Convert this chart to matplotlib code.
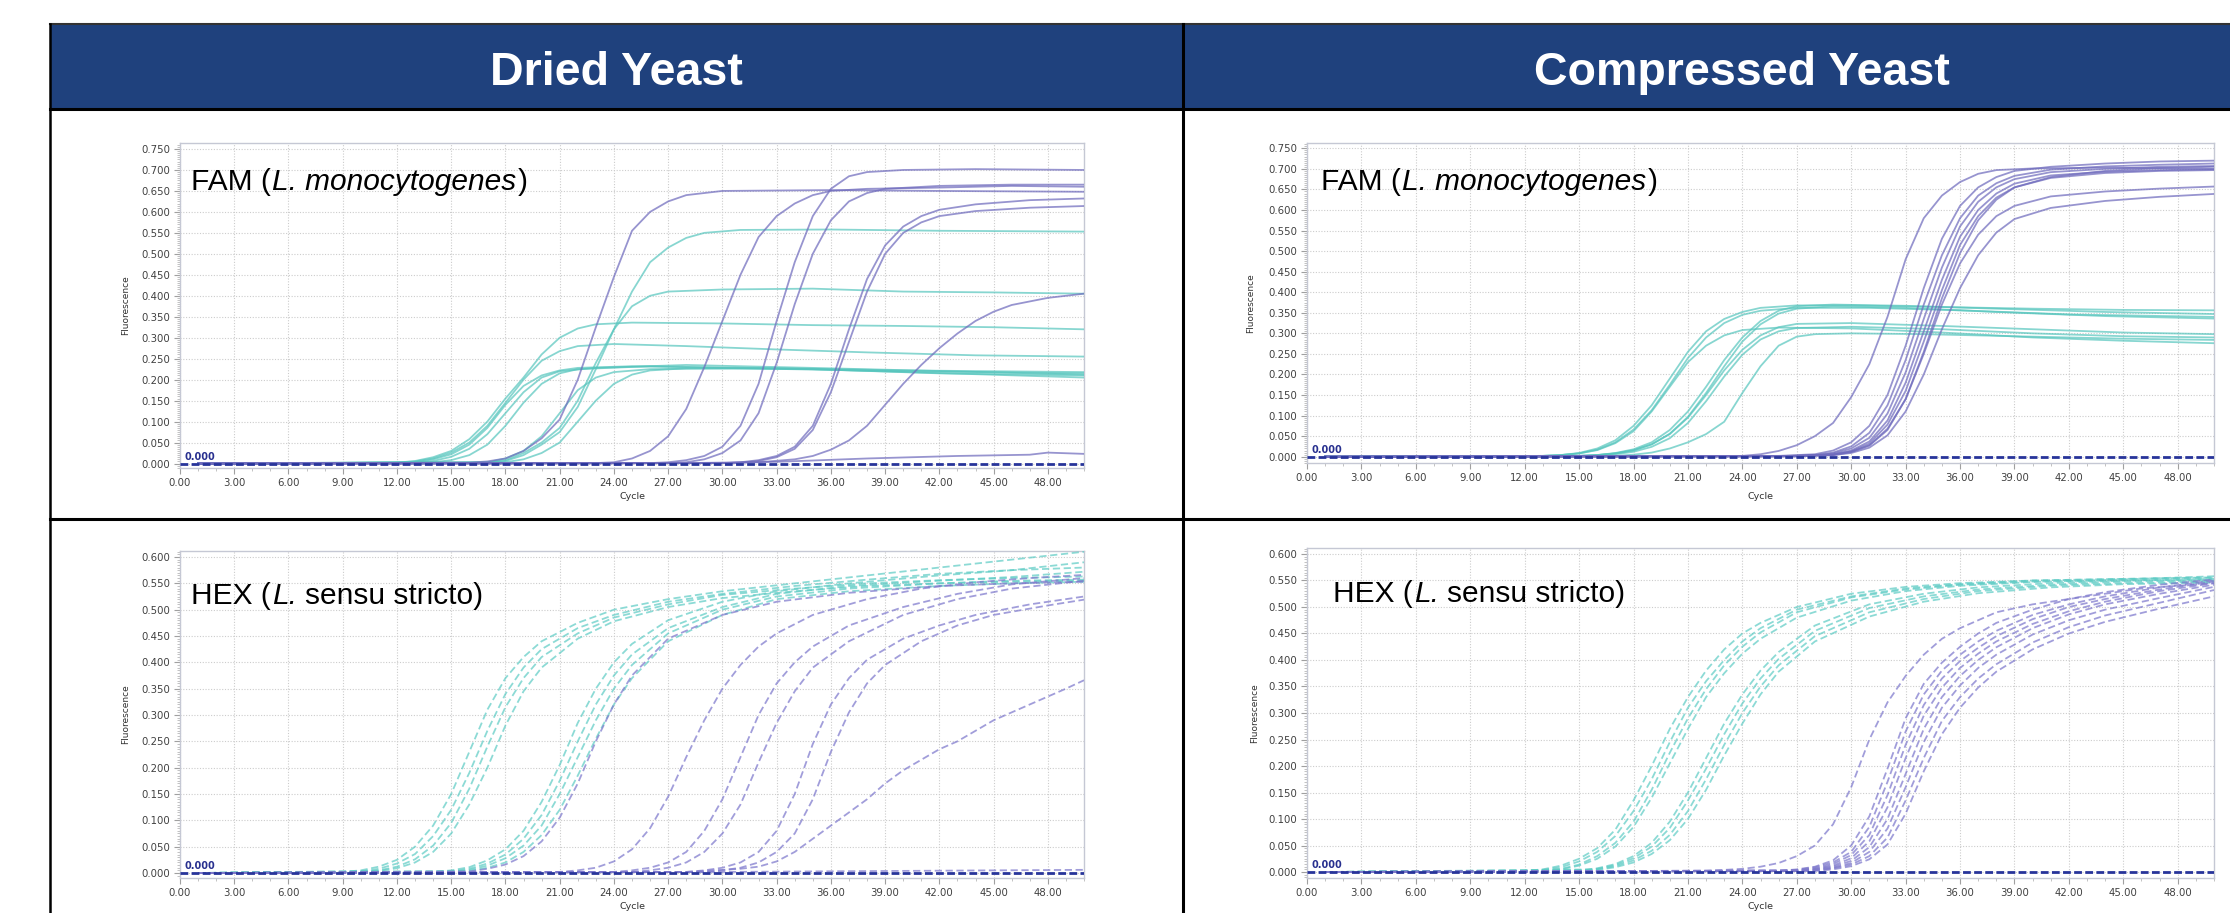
import numpy as np
import matplotlib
matplotlib.use("Agg")
import matplotlib.pyplot as plt
from matplotlib.ticker import MultipleLocator, FormatStrFormatter
from matplotlib.patches import Rectangle

# column headers and panel captions (text, style, space before)
column_titles = ["Dried Yeast", "Compressed Yeast"]
fam_caption = [("FAM (", "normal", False), ("L. monocytogenes", "italic", False), (")", "normal", False)]
hex_caption = [("HEX (", "normal", False), ("L.", "italic", False), ("sensu stricto)", "normal", True)]
cycle_ticks = [0, 3, 6, 9, 12, 15, 18, 21, 24, 27, 30, 33, 36, 39, 42, 45, 48]

# amplification curves, (cycle, fluorescence)
dried_fam_teal = [
    [(1, 0), (12, 0.002), (13, 0.006), (14, 0.015), (15, 0.03), (16, 0.058), (17, 0.1), (18, 0.155), (19, 0.205), (20, 0.26), (21, 0.3), (22, 0.322), (23, 0.332), (25, 0.336), (30, 0.334), (35, 0.33), (40, 0.328), (45, 0.325), (50, 0.32)],
    [(1, 0), (12, 0.002), (13, 0.005), (14, 0.012), (15, 0.026), (16, 0.05), (17, 0.09), (18, 0.145), (19, 0.2), (20, 0.245), (21, 0.268), (22, 0.28), (24, 0.285), (28, 0.28), (33, 0.272), (38, 0.265), (44, 0.258), (50, 0.255)],
    [(1, 0), (13, 0.003), (14, 0.01), (15, 0.022), (16, 0.045), (17, 0.085), (18, 0.14), (19, 0.185), (20, 0.21), (21, 0.222), (22, 0.228), (25, 0.232), (30, 0.228), (40, 0.22), (50, 0.215)],
    [(1, 0), (13, 0.002), (14, 0.006), (15, 0.016), (16, 0.035), (17, 0.07), (18, 0.12), (19, 0.17), (20, 0.205), (21, 0.22), (23, 0.228), (28, 0.235), (35, 0.228), (50, 0.212)],
    [(1, 0), (14, 0.003), (15, 0.008), (16, 0.02), (17, 0.045), (18, 0.09), (19, 0.145), (20, 0.19), (21, 0.215), (22, 0.225), (26, 0.232), (35, 0.225), (50, 0.205)],
    [(1, 0), (17, 0.002), (18, 0.006), (19, 0.02), (20, 0.045), (21, 0.075), (22, 0.135), (23, 0.225), (24, 0.32), (25, 0.41), (26, 0.48), (27, 0.515), (28, 0.538), (29, 0.55), (31, 0.557), (36, 0.558), (42, 0.555), (50, 0.553)],
    [(1, 0), (17, 0.002), (18, 0.008), (19, 0.025), (20, 0.05), (21, 0.085), (22, 0.15), (23, 0.24), (24, 0.32), (25, 0.375), (26, 0.4), (27, 0.41), (30, 0.415), (35, 0.417), (40, 0.41), (45, 0.408), (50, 0.405)],
    [(1, 0), (18, 0.003), (19, 0.01), (20, 0.025), (21, 0.05), (22, 0.1), (23, 0.15), (24, 0.19), (25, 0.212), (26, 0.222), (28, 0.227), (35, 0.225), (42, 0.215), (50, 0.21)],
    [(1, 0), (17, 0.003), (18, 0.012), (19, 0.03), (20, 0.065), (21, 0.12), (22, 0.175), (23, 0.205), (24, 0.218), (26, 0.225), (32, 0.228), (40, 0.222), (50, 0.218)],
]
dried_fam_purple = [
    [(1, 0), (16, 0.002), (17, 0.005), (18, 0.012), (19, 0.03), (20, 0.06), (21, 0.105), (22, 0.2), (23, 0.325), (24, 0.445), (25, 0.555), (26, 0.6), (27, 0.625), (28, 0.64), (30, 0.65), (36, 0.652), (42, 0.65), (50, 0.648)],
    [(1, 0), (23, 0.001), (24, 0.003), (25, 0.012), (26, 0.03), (27, 0.065), (28, 0.13), (29, 0.23), (30, 0.34), (31, 0.45), (32, 0.54), (33, 0.59), (34, 0.62), (35, 0.64), (36, 0.65), (38, 0.655), (42, 0.658), (46, 0.662), (50, 0.66)],
    [(1, 0), (26, 0.001), (27, 0.003), (28, 0.008), (29, 0.018), (30, 0.04), (31, 0.09), (32, 0.19), (33, 0.34), (34, 0.48), (35, 0.59), (36, 0.655), (37, 0.685), (38, 0.695), (40, 0.7), (44, 0.702), (50, 0.7)],
    [(1, 0), (27, 0.001), (28, 0.003), (29, 0.01), (30, 0.025), (31, 0.055), (32, 0.12), (33, 0.24), (34, 0.38), (35, 0.5), (36, 0.58), (37, 0.625), (38, 0.645), (39, 0.655), (42, 0.662), (46, 0.665), (50, 0.665)],
    [(1, 0), (30, 0.001), (31, 0.003), (32, 0.008), (33, 0.018), (34, 0.04), (35, 0.09), (36, 0.19), (37, 0.32), (38, 0.44), (39, 0.52), (40, 0.565), (41, 0.59), (42, 0.605), (44, 0.618), (47, 0.628), (50, 0.632)],
    [(1, 0), (30, 0.001), (31, 0.002), (32, 0.006), (33, 0.015), (34, 0.035), (35, 0.08), (36, 0.17), (37, 0.29), (38, 0.41), (39, 0.5), (40, 0.55), (41, 0.575), (42, 0.59), (44, 0.602), (47, 0.61), (50, 0.614)],
    [(1, 0), (30, 0.001), (32, 0.003), (34, 0.01), (35, 0.018), (36, 0.033), (37, 0.055), (38, 0.09), (39, 0.14), (40, 0.19), (41, 0.235), (42, 0.275), (43, 0.31), (44, 0.34), (45, 0.362), (46, 0.378), (48, 0.395), (50, 0.405)],
    [(1, 0), (28, 0.001), (33, 0.004), (38, 0.012), (43, 0.018), (47, 0.021), (48, 0.026), (50, 0.023)],
]

compressed_fam_teal = [
    [(1, 0), (13, 0.002), (14, 0.004), (15, 0.009), (16, 0.02), (17, 0.04), (18, 0.075), (19, 0.125), (20, 0.19), (21, 0.255), (22, 0.305), (23, 0.335), (24, 0.352), (25, 0.362), (27, 0.368), (30, 0.368), (35, 0.364), (40, 0.36), (45, 0.357), (50, 0.356)],
    [(1, 0), (13, 0.002), (14, 0.004), (15, 0.008), (16, 0.017), (17, 0.035), (18, 0.066), (19, 0.113), (20, 0.175), (21, 0.24), (22, 0.29), (23, 0.325), (24, 0.345), (25, 0.355), (27, 0.362), (31, 0.362), (36, 0.356), (42, 0.346), (50, 0.34)],
    [(1, 0), (13, 0.002), (14, 0.004), (15, 0.008), (16, 0.016), (17, 0.033), (18, 0.062), (19, 0.11), (20, 0.17), (21, 0.23), (22, 0.27), (23, 0.295), (24, 0.308), (26, 0.314), (30, 0.312), (35, 0.302), (40, 0.29), (45, 0.282), (50, 0.276)],
    [(1, 0), (15, 0.002), (16, 0.004), (17, 0.009), (18, 0.018), (19, 0.035), (20, 0.065), (21, 0.11), (22, 0.17), (23, 0.235), (24, 0.29), (25, 0.33), (26, 0.355), (27, 0.366), (29, 0.37), (33, 0.367), (38, 0.36), (44, 0.352), (50, 0.347)],
    [(1, 0), (15, 0.002), (16, 0.004), (17, 0.008), (18, 0.016), (19, 0.03), (20, 0.056), (21, 0.097), (22, 0.155), (23, 0.22), (24, 0.28), (25, 0.322), (26, 0.348), (27, 0.36), (29, 0.366), (33, 0.362), (38, 0.352), (44, 0.342), (50, 0.336)],
    [(1, 0), (15, 0.002), (16, 0.004), (17, 0.008), (18, 0.015), (19, 0.03), (20, 0.055), (21, 0.095), (22, 0.15), (23, 0.21), (24, 0.26), (25, 0.295), (26, 0.315), (27, 0.323), (30, 0.325), (35, 0.318), (40, 0.31), (45, 0.302), (50, 0.298)],
    [(1, 0), (15, 0.001), (16, 0.003), (17, 0.006), (18, 0.012), (19, 0.024), (20, 0.045), (21, 0.082), (22, 0.135), (23, 0.195), (24, 0.248), (25, 0.285), (26, 0.305), (27, 0.313), (30, 0.316), (35, 0.31), (40, 0.3), (45, 0.293), (50, 0.29)],
    [(1, 0), (17, 0.002), (18, 0.005), (19, 0.01), (20, 0.02), (21, 0.035), (22, 0.055), (23, 0.085), (24, 0.155), (25, 0.22), (26, 0.27), (27, 0.292), (28, 0.298), (30, 0.3), (34, 0.298), (40, 0.292), (45, 0.287), (50, 0.284)],
]
compressed_fam_purple = [
    [(1, 0), (24, 0.002), (25, 0.006), (26, 0.014), (27, 0.028), (28, 0.05), (29, 0.082), (30, 0.145), (31, 0.225), (32, 0.34), (33, 0.48), (34, 0.58), (35, 0.635), (36, 0.668), (37, 0.688), (38, 0.697), (40, 0.701), (44, 0.703), (50, 0.7)],
    [(1, 0), (26, 0.002), (28, 0.006), (29, 0.015), (30, 0.035), (31, 0.075), (32, 0.15), (33, 0.27), (34, 0.41), (35, 0.53), (36, 0.61), (37, 0.655), (38, 0.68), (39, 0.695), (41, 0.705), (44, 0.713), (47, 0.718), (50, 0.72)],
    [(1, 0), (26, 0.001), (28, 0.004), (29, 0.01), (30, 0.025), (31, 0.058), (32, 0.125), (33, 0.235), (34, 0.37), (35, 0.49), (36, 0.58), (37, 0.635), (38, 0.665), (39, 0.683), (41, 0.698), (44, 0.706), (47, 0.71), (50, 0.713)],
    [(1, 0), (27, 0.001), (28, 0.003), (29, 0.008), (30, 0.02), (31, 0.046), (32, 0.105), (33, 0.205), (34, 0.335), (35, 0.46), (36, 0.56), (37, 0.62), (38, 0.655), (39, 0.675), (41, 0.692), (44, 0.7), (47, 0.705), (50, 0.707)],
    [(1, 0), (27, 0.002), (29, 0.006), (30, 0.015), (31, 0.037), (32, 0.088), (33, 0.18), (34, 0.305), (35, 0.43), (36, 0.535), (37, 0.6), (38, 0.64), (39, 0.664), (41, 0.684), (44, 0.693), (47, 0.697), (50, 0.699)],
    [(1, 0), (27, 0.002), (29, 0.005), (30, 0.013), (31, 0.032), (32, 0.078), (33, 0.16), (34, 0.28), (35, 0.405), (36, 0.515), (37, 0.585), (38, 0.63), (39, 0.655), (41, 0.678), (44, 0.69), (47, 0.695), (50, 0.697)],
    [(1, 0), (27, 0.002), (29, 0.005), (30, 0.012), (31, 0.028), (32, 0.068), (33, 0.14), (34, 0.25), (35, 0.37), (36, 0.47), (37, 0.54), (38, 0.585), (39, 0.61), (41, 0.633), (44, 0.645), (47, 0.652), (50, 0.657)],
    [(1, 0), (27, 0.001), (29, 0.004), (30, 0.009), (31, 0.022), (32, 0.052), (33, 0.11), (34, 0.2), (35, 0.31), (36, 0.41), (37, 0.49), (38, 0.545), (39, 0.578), (41, 0.605), (44, 0.622), (47, 0.632), (50, 0.639)],
    [(1, 0), (27, 0.001), (29, 0.004), (30, 0.011), (31, 0.027), (32, 0.065), (33, 0.14), (34, 0.255), (35, 0.385), (36, 0.495), (37, 0.575), (38, 0.625), (39, 0.655), (41, 0.68), (44, 0.695), (47, 0.702), (50, 0.705)],
]

dried_hex_teal = [
    [(1, 0), (9, 0.002), (10, 0.005), (11, 0.012), (12, 0.025), (13, 0.05), (14, 0.09), (15, 0.15), (16, 0.23), (17, 0.31), (18, 0.37), (19, 0.41), (20, 0.44), (22, 0.475), (24, 0.5), (27, 0.52), (30, 0.535), (34, 0.55), (38, 0.565), (42, 0.58), (46, 0.595), (50, 0.61)],
    [(1, 0), (10, 0.003), (11, 0.008), (12, 0.018), (13, 0.036), (14, 0.07), (15, 0.12), (16, 0.19), (17, 0.27), (18, 0.34), (19, 0.39), (20, 0.425), (22, 0.465), (24, 0.49), (27, 0.515), (30, 0.53), (34, 0.545), (38, 0.557), (42, 0.568), (46, 0.575), (50, 0.58)],
    [(1, 0), (10, 0.002), (11, 0.005), (12, 0.012), (13, 0.026), (14, 0.052), (15, 0.095), (16, 0.16), (17, 0.24), (18, 0.315), (19, 0.37), (20, 0.41), (22, 0.455), (24, 0.485), (27, 0.51), (30, 0.528), (34, 0.54), (38, 0.55), (42, 0.556), (46, 0.56), (50, 0.563)],
    [(1, 0), (11, 0.004), (12, 0.009), (13, 0.02), (14, 0.04), (15, 0.075), (16, 0.13), (17, 0.2), (18, 0.28), (19, 0.345), (20, 0.39), (22, 0.445), (24, 0.478), (27, 0.505), (30, 0.522), (34, 0.535), (38, 0.545), (42, 0.55), (46, 0.553), (50, 0.555)],
    [(1, 0), (14, 0.002), (15, 0.005), (16, 0.011), (17, 0.024), (18, 0.045), (19, 0.08), (20, 0.135), (21, 0.205), (22, 0.285), (23, 0.35), (24, 0.4), (25, 0.435), (27, 0.48), (30, 0.515), (33, 0.535), (37, 0.55), (42, 0.565), (46, 0.575), (50, 0.59)],
    [(1, 0), (15, 0.003), (16, 0.008), (17, 0.018), (18, 0.035), (19, 0.065), (20, 0.11), (21, 0.175), (22, 0.25), (23, 0.32), (24, 0.375), (25, 0.415), (27, 0.465), (30, 0.505), (33, 0.53), (37, 0.545), (42, 0.555), (46, 0.562), (50, 0.572)],
    [(1, 0), (15, 0.002), (16, 0.006), (17, 0.014), (18, 0.028), (19, 0.052), (20, 0.09), (21, 0.15), (22, 0.22), (23, 0.29), (24, 0.35), (25, 0.395), (27, 0.455), (30, 0.5), (33, 0.525), (37, 0.54), (42, 0.55), (46, 0.555), (50, 0.557)],
    [(1, 0), (16, 0.004), (17, 0.01), (18, 0.02), (19, 0.04), (20, 0.072), (21, 0.12), (22, 0.185), (23, 0.255), (24, 0.32), (25, 0.37), (27, 0.44), (30, 0.49), (33, 0.52), (37, 0.535), (42, 0.545), (46, 0.55), (50, 0.553)],
]
dried_hex_purple = [
    [(1, 0), (16, 0.003), (17, 0.008), (18, 0.016), (19, 0.032), (20, 0.06), (21, 0.105), (22, 0.17), (23, 0.25), (24, 0.32), (25, 0.375), (27, 0.445), (30, 0.49), (33, 0.515), (37, 0.532), (42, 0.545), (46, 0.55), (50, 0.553)],
    [(1, 0), (21, 0.002), (22, 0.005), (23, 0.01), (24, 0.022), (25, 0.045), (26, 0.085), (27, 0.145), (28, 0.22), (29, 0.29), (30, 0.35), (31, 0.395), (32, 0.43), (33, 0.455), (35, 0.49), (38, 0.52), (41, 0.54), (44, 0.552), (47, 0.56), (50, 0.566)],
    [(1, 0), (24, 0.002), (25, 0.005), (26, 0.01), (27, 0.02), (28, 0.04), (29, 0.08), (30, 0.14), (31, 0.22), (32, 0.3), (33, 0.36), (34, 0.4), (35, 0.43), (37, 0.47), (40, 0.505), (43, 0.53), (46, 0.548), (50, 0.56)],
    [(1, 0), (25, 0.002), (26, 0.005), (27, 0.01), (28, 0.02), (29, 0.04), (30, 0.075), (31, 0.13), (32, 0.21), (33, 0.285), (34, 0.345), (35, 0.39), (37, 0.44), (40, 0.49), (43, 0.52), (46, 0.54), (50, 0.555)],
    [(1, 0), (28, 0.002), (29, 0.005), (30, 0.01), (31, 0.02), (32, 0.04), (33, 0.08), (34, 0.15), (35, 0.245), (36, 0.32), (37, 0.37), (38, 0.405), (40, 0.445), (42, 0.47), (44, 0.49), (47, 0.51), (50, 0.525)],
    [(1, 0), (29, 0.002), (30, 0.005), (31, 0.01), (32, 0.02), (33, 0.04), (34, 0.075), (35, 0.14), (36, 0.23), (37, 0.305), (38, 0.36), (39, 0.395), (41, 0.44), (43, 0.47), (45, 0.49), (48, 0.508), (50, 0.519)],
    [(1, 0), (28, 0.002), (30, 0.006), (31, 0.008), (32, 0.012), (33, 0.022), (34, 0.04), (35, 0.065), (36, 0.09), (37, 0.115), (38, 0.14), (39, 0.17), (40, 0.195), (41, 0.215), (42, 0.235), (43, 0.25), (44, 0.27), (45, 0.29), (46, 0.305), (47, 0.32), (48, 0.335), (49, 0.35), (50, 0.366)],
    [(1, 0), (30, 0.002), (40, 0.004), (50, 0.006)],
]

compressed_hex_teal = [
    [(1, 0), (12, 0.002), (13, 0.005), (14, 0.012), (15, 0.025), (16, 0.045), (17, 0.08), (18, 0.135), (19, 0.2), (20, 0.27), (21, 0.33), (22, 0.38), (23, 0.42), (24, 0.45), (25, 0.47), (27, 0.5), (30, 0.525), (33, 0.538), (36, 0.545), (40, 0.55), (45, 0.553), (50, 0.556)],
    [(1, 0), (12, 0.002), (13, 0.004), (14, 0.009), (15, 0.02), (16, 0.038), (17, 0.068), (18, 0.115), (19, 0.175), (20, 0.245), (21, 0.31), (22, 0.36), (23, 0.4), (24, 0.435), (25, 0.46), (27, 0.495), (30, 0.52), (33, 0.535), (36, 0.543), (40, 0.55), (45, 0.553), (50, 0.555)],
    [(1, 0), (13, 0.003), (14, 0.006), (15, 0.014), (16, 0.03), (17, 0.055), (18, 0.095), (19, 0.155), (20, 0.225), (21, 0.29), (22, 0.345), (23, 0.39), (24, 0.425), (25, 0.452), (27, 0.49), (30, 0.518), (33, 0.533), (36, 0.542), (40, 0.548), (45, 0.55), (50, 0.552)],
    [(1, 0), (13, 0.002), (14, 0.005), (15, 0.012), (16, 0.025), (17, 0.048), (18, 0.085), (19, 0.14), (20, 0.205), (21, 0.27), (22, 0.33), (23, 0.375), (24, 0.412), (25, 0.44), (27, 0.48), (30, 0.512), (33, 0.53), (36, 0.54), (40, 0.547), (45, 0.552), (50, 0.558)],
    [(1, 0), (15, 0.003), (16, 0.007), (17, 0.015), (18, 0.03), (19, 0.055), (20, 0.095), (21, 0.15), (22, 0.215), (23, 0.28), (24, 0.335), (25, 0.38), (26, 0.415), (28, 0.465), (31, 0.505), (34, 0.525), (37, 0.537), (41, 0.545), (45, 0.55), (50, 0.553)],
    [(1, 0), (15, 0.002), (16, 0.006), (17, 0.013), (18, 0.026), (19, 0.048), (20, 0.083), (21, 0.135), (22, 0.195), (23, 0.26), (24, 0.318), (25, 0.365), (26, 0.402), (28, 0.455), (31, 0.498), (34, 0.52), (37, 0.533), (41, 0.542), (45, 0.548), (50, 0.55)],
    [(1, 0), (16, 0.005), (17, 0.011), (18, 0.022), (19, 0.04), (20, 0.07), (21, 0.115), (22, 0.175), (23, 0.24), (24, 0.3), (25, 0.35), (26, 0.39), (28, 0.445), (31, 0.49), (34, 0.515), (37, 0.53), (41, 0.54), (45, 0.545), (50, 0.548)],
    [(1, 0), (16, 0.004), (17, 0.009), (18, 0.018), (19, 0.034), (20, 0.06), (21, 0.1), (22, 0.155), (23, 0.22), (24, 0.28), (25, 0.335), (26, 0.378), (28, 0.435), (31, 0.482), (34, 0.51), (37, 0.526), (41, 0.537), (45, 0.543), (50, 0.546)],
]
compressed_hex_purple = [
    [(1, 0), (22, 0.002), (24, 0.006), (25, 0.01), (26, 0.017), (27, 0.03), (28, 0.05), (29, 0.09), (30, 0.16), (31, 0.25), (32, 0.32), (33, 0.37), (34, 0.41), (35, 0.44), (36, 0.46), (38, 0.49), (40, 0.505), (43, 0.52), (46, 0.535), (48, 0.54), (50, 0.545)],
    [(1, 0), (26, 0.002), (27, 0.005), (28, 0.01), (29, 0.022), (30, 0.05), (31, 0.105), (32, 0.195), (33, 0.29), (34, 0.355), (35, 0.395), (36, 0.425), (37, 0.45), (38, 0.47), (40, 0.495), (42, 0.515), (44, 0.528), (47, 0.542), (50, 0.552)],
    [(1, 0), (26, 0.002), (27, 0.004), (28, 0.009), (29, 0.018), (30, 0.038), (31, 0.085), (32, 0.17), (33, 0.265), (34, 0.335), (35, 0.38), (36, 0.41), (37, 0.435), (38, 0.455), (40, 0.485), (42, 0.505), (44, 0.52), (47, 0.537), (50, 0.55)],
    [(1, 0), (27, 0.003), (28, 0.007), (29, 0.015), (30, 0.032), (31, 0.07), (32, 0.145), (33, 0.24), (34, 0.315), (35, 0.365), (36, 0.398), (37, 0.423), (38, 0.445), (40, 0.477), (42, 0.5), (44, 0.515), (47, 0.533), (50, 0.548)],
    [(1, 0), (27, 0.003), (28, 0.006), (29, 0.012), (30, 0.026), (31, 0.058), (32, 0.122), (33, 0.215), (34, 0.295), (35, 0.348), (36, 0.385), (37, 0.412), (38, 0.435), (40, 0.468), (42, 0.492), (44, 0.51), (47, 0.53), (50, 0.545)],
    [(1, 0), (27, 0.002), (28, 0.005), (29, 0.01), (30, 0.021), (31, 0.047), (32, 0.1), (33, 0.185), (34, 0.27), (35, 0.33), (36, 0.37), (37, 0.4), (38, 0.424), (40, 0.46), (42, 0.486), (44, 0.505), (47, 0.525), (50, 0.542)],
    [(1, 0), (27, 0.002), (28, 0.004), (29, 0.008), (30, 0.017), (31, 0.038), (32, 0.082), (33, 0.16), (34, 0.245), (35, 0.31), (36, 0.352), (37, 0.385), (38, 0.41), (40, 0.448), (42, 0.475), (44, 0.495), (47, 0.517), (50, 0.538)],
    [(1, 0), (28, 0.003), (29, 0.007), (30, 0.014), (31, 0.03), (32, 0.065), (33, 0.135), (34, 0.215), (35, 0.285), (36, 0.33), (37, 0.365), (38, 0.392), (40, 0.433), (42, 0.462), (44, 0.484), (47, 0.508), (50, 0.532)],
    [(1, 0), (28, 0.002), (29, 0.005), (30, 0.011), (31, 0.024), (32, 0.052), (33, 0.11), (34, 0.19), (35, 0.26), (36, 0.31), (37, 0.348), (38, 0.378), (40, 0.42), (42, 0.45), (44, 0.472), (47, 0.497), (50, 0.52)],
]

W, H = 2230, 913
fig = plt.figure(figsize=(W / 100, H / 100), dpi=100)
fig.patch.set_facecolor("white")
renderer = fig.canvas.get_renderer()


def px_axes(x0, y0, x1, y1):
    return fig.add_axes([x0 / W, 1 - y1 / H, (x1 - x0) / W, (y1 - y0) / H])


def draw_caption(x_px, y_px, parts, size=21.5):
    # piece the caption together so only the genus/species is italic
    space = 0.278 * size * 100 / 72
    x = x_px
    for i, (txt, style, space_before) in enumerate(parts):
        if space_before:
            x += space
        elif i > 0:
            x += 1.5
        t = fig.text(x / W, 1 - y_px / H, txt, ha="left", va="baseline", fontsize=size,
                     family="Liberation Sans", style=style, color="black", zorder=10)
        x += t.get_window_extent(renderer).width


# table frame drawn in pixel space
bg = fig.add_axes([0, 0, 1, 1])
bg.set_xlim(0, W)
bg.set_ylim(H, 0)
bg.axis("off")
bg.add_patch(Rectangle((50, 24), W - 50, 85, facecolor="#1f417d", edgecolor="none"))
bg.plot([50, W], [24, 24], color="#333333", lw=1.5)
bg.plot([50, W], [109, 109], color="black", lw=2.2)
bg.plot([50, W], [519, 519], color="black", lw=2.2)
bg.plot([50, 50], [24, H], color="black", lw=1.8)
bg.plot([1183, 1183], [24, H], color="black", lw=2.2)
for cx, title in zip([616.5, 1741.5], column_titles):
    bg.text(cx, 85, title, ha="center", va="baseline", color="white",
            fontsize=33.5, fontweight="bold", family="Liberation Sans")

panels = [
    dict(rect=(180, 143, 1084, 468), ylim=(-0.0107, 0.7643), ymax=0.75,
         teal=dried_fam_teal, purple=dried_fam_purple, dashed=False,
         caption=fam_caption, cap_xy=(191, 189.5), ylab_x=126, xlab_y=496),
    dict(rect=(1307, 143, 2214, 463), ylim=(-0.0153, 0.7629), ymax=0.75,
         teal=compressed_fam_teal, purple=compressed_fam_purple, dashed=False,
         caption=fam_caption, cap_xy=(1321, 189.5), ylab_x=1251, xlab_y=496),
    dict(rect=(180, 551, 1084, 878), ylim=(-0.0095, 0.6114), ymax=0.6,
         teal=dried_hex_teal, purple=dried_hex_purple, dashed=True,
         caption=hex_caption, cap_xy=(191, 603.5), ylab_x=126, xlab_y=906),
    dict(rect=(1307, 548, 2214, 878), ylim=(-0.0113, 0.6113), ymax=0.6,
         teal=compressed_hex_teal, purple=compressed_hex_purple, dashed=True,
         caption=hex_caption, cap_xy=(1333, 602), ylab_x=1255, xlab_y=906),
]

for p in panels:
    x0, y0, x1, y1 = p["rect"]
    ax = px_axes(x0, y0, x1, y1)
    ax.set_xlim(0, 50)
    ax.set_ylim(*p["ylim"])

    ls = (0, (4, 2)) if p["dashed"] else "-"
    teal_c = "#5ccbc4" if p["dashed"] else "#55c5bd"
    purp_c = "#7d78cc" if p["dashed"] else "#6f6bbd"
    for curve in p["teal"]:
        arr = np.array(curve)
        ax.plot(arr[:, 0], arr[:, 1], color=teal_c, lw=1.3, ls=ls, alpha=0.7, zorder=3)
    for curve in p["purple"]:
        arr = np.array(curve)
        ax.plot(arr[:, 0], arr[:, 1], color=purp_c, lw=1.3, ls=ls, alpha=0.72, zorder=3)

    # threshold
    ax.axhline(0, color="#27349a", lw=2.0, ls=(0, (2.8, 1.2)), zorder=5)
    ax.annotate("0.000", xy=(0, 0), xytext=(3.5, 1.2), textcoords="offset points",
                fontsize=7, fontweight="bold", color="#28308f", va="bottom", ha="left", zorder=6)

    ax.set_xticks(cycle_ticks)
    ax.xaxis.set_major_formatter(FormatStrFormatter("%.2f"))
    ax.xaxis.set_minor_locator(MultipleLocator(1))
    ax.set_yticks(np.arange(0, p["ymax"] + 0.001, 0.05))
    ax.yaxis.set_major_formatter(FormatStrFormatter("%.3f"))
    ax.yaxis.set_minor_locator(MultipleLocator(0.005))
    ax.tick_params(which="major", labelsize=7.3, labelcolor="#404040", color="#a0a0a0",
                   length=4, width=0.8, pad=3)
    ax.tick_params(which="minor", color="#b8b8b8", length=2.2, width=0.6)
    ax.grid(True, which="major", color="#cccccc", linestyle=(0, (1, 1.5)), lw=0.8)
    ax.set_axisbelow(True)
    for sp in ax.spines.values():
        sp.set_color("#c5c8d4")
        sp.set_linewidth(1.0)

    fig.text(p["ylab_x"] / W, 1 - ((y0 + y1) / 2) / H, "Fluorescence", rotation=90,
             ha="center", va="center", fontsize=6.5, color="#303030")
    fig.text(((x0 + x1) / 2) / W, 1 - p["xlab_y"] / H, "Cycle",
             ha="center", va="center", fontsize=6.8, color="#303030")
    draw_caption(p["cap_xy"][0], p["cap_xy"][1], p["caption"])

fig.savefig("out.png", dpi=100)
